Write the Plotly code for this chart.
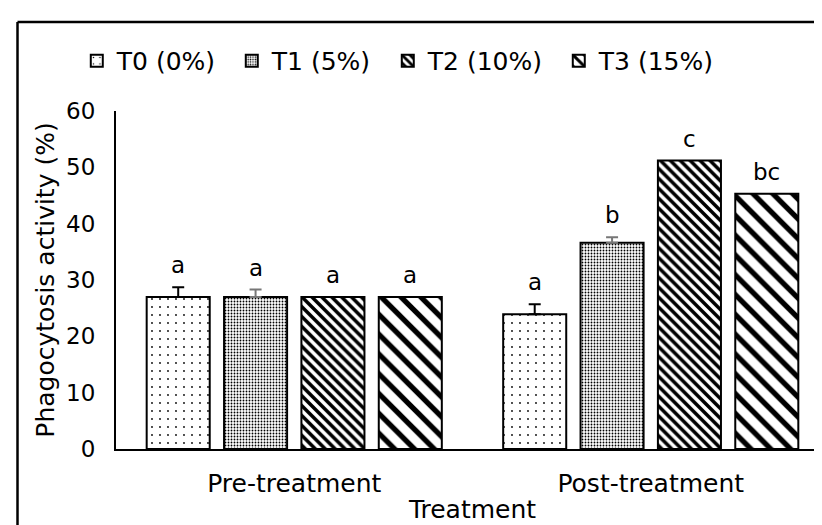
import plotly.graph_objects as go

# ---- data ----
categories = ["Pre-treatment", "Post-treatment"]
series_names = ["T0 (0%)", "T1 (5%)", "T2 (10%)", "T3 (15%)"]
t0_values = [27.0, 23.9]
t1_values = [27.0, 36.6]
t2_values = [27.0, 51.2]
t3_values = [27.0, 45.3]
t0_errors = [1.7, 1.8]
t1_errors = [1.3, 1.0]
t2_errors = [0.0, 0.0]
t3_errors = [0.0, 0.0]
t0_letters = ["a", "a"]
t1_letters = ["a", "b"]
t2_letters = ["a", "c"]
t3_letters = ["a", "bc"]
y_tick_values = [0, 10, 20, 30, 40, 50, 60]

values = [t0_values, t1_values, t2_values, t3_values]
errors = [t0_errors, t1_errors, t2_errors, t3_errors]
letters = [t0_letters, t1_letters, t2_letters, t3_letters]

# ---- style ----
W, H = 822, 525
ML, MR, MT, MB = 108, 1, 103, 84
FONT = "DejaVu Sans"
FS = 23
FS_TITLE = 25
patterns = [
    dict(shape=".", size=8, solidity=0.04, fgcolor="black", bgcolor="white", fgopacity=1),
    dict(shape=".", size=3, solidity=0.3, fgcolor="black", bgcolor="white", fgopacity=1),
    dict(shape="\\", size=7, solidity=0.5, fgcolor="black", bgcolor="white", fgopacity=1),
    dict(shape="\\", size=14, solidity=0.38, fgcolor="black", bgcolor="white", fgopacity=1),
]
legend_widths = [110, 111, 126, 126]
err_colors = ["black", "#777777", "black", "black"]
bargap = 0.132
bargroupgap = 0.185

fig = go.Figure()
for i in range(4):
    has_err = any(e > 0 for e in errors[i])
    fig.add_trace(go.Bar(
        name=series_names[i],
        x=categories,
        y=values[i],
        legendwidth=legend_widths[i],
        marker=dict(color="white", line=dict(color="black", width=2),
                    pattern=patterns[i]),
        error_y=dict(type="data", symmetric=False, array=errors[i],
                     arrayminus=[0] * len(errors[i]), visible=has_err,
                     color=err_colors[i], thickness=2, width=6),
    ))

plot_w = W - ML - MR
cat_w = plot_w / len(categories)
slot = cat_w * (1 - bargap) / 4
annotations = []
for i in range(4):
    for j, c in enumerate(categories):
        annotations.append(dict(
            x=c, y=values[i][j] + errors[i][j], xref="x", yref="y",
            text=letters[i][j], showarrow=False, yanchor="middle",
            xshift=(i - 1.5) * slot, yshift=22,
            font=dict(family=FONT, size=FS, color="black"),
        ))

# outer frame (top and left edges visible; the rest cropped)
fx = (9.5 - ML) / plot_w
fy = (H - MB - 14) / (H - MT - MB)
shapes = [
    dict(type="line", xref="paper", yref="paper", x0=fx, x1=1.2, y0=fy, y1=fy,
         line=dict(color="black", width=2.5)),
    dict(type="line", xref="paper", yref="paper", x0=fx, x1=fx, y0=-0.5, y1=fy,
         line=dict(color="black", width=2.5)),
]

fig.update_layout(
    width=W, height=H,
    margin=dict(l=ML, r=MR, t=MT, b=MB, autoexpand=False),
    paper_bgcolor="white", plot_bgcolor="white",
    font=dict(family=FONT, size=FS, color="black"),
    barmode="group", bargap=bargap, bargroupgap=bargroupgap,
    showlegend=True,
    legend=dict(orientation="h", x=-0.055, xanchor="left", y=1.148, yanchor="middle",
                font=dict(family=FONT, size=FS_TITLE),
                bgcolor="rgba(0,0,0,0)", traceorder="normal"),
    xaxis=dict(showline=True, linecolor="black", linewidth=2, showgrid=False,
               ticks="outside", ticklen=11, tickcolor="rgba(0,0,0,0)",
               tickfont=dict(size=FS_TITLE),
               title=dict(text="Treatment", font=dict(size=FS_TITLE), standoff=3)),
    yaxis=dict(range=[0, 60], tickvals=y_tick_values, showline=True,
               linecolor="black", linewidth=2, showgrid=False, zeroline=False,
               ticks="outside", ticklen=14, tickcolor="rgba(0,0,0,0)",
               tickfont=dict(size=FS),
               title=dict(text="Phagocytosis activity (%)", font=dict(size=FS_TITLE),
                          standoff=4)),
    annotations=annotations,
    shapes=shapes,
)

fig.write_html("out.html")
